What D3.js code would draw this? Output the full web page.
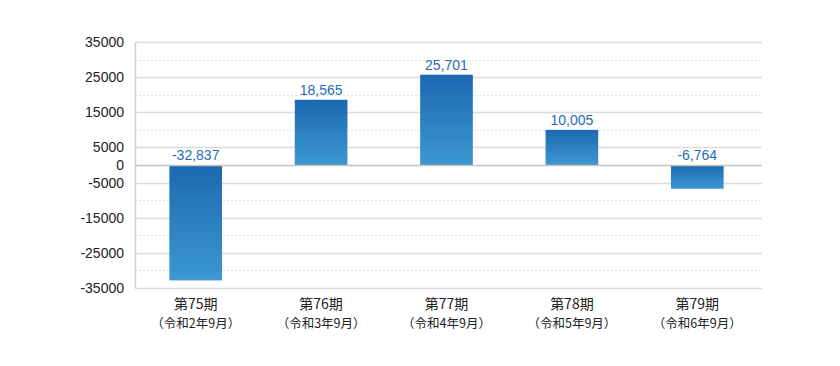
<!DOCTYPE html>
<html><head><meta charset="utf-8">
<script src="https://cdn.jsdelivr.net/npm/d3@7"></script>
<style>body{margin:0;background:#fff}svg{display:block}</style>
</head><body>
<svg id="c" width="840" height="366"></svg>
<script>
const periods = ["第75期","第76期","第77期","第78期","第79期"];
const eras = ["（令和2年9月）","（令和3年9月）","（令和4年9月）","（令和5年9月）","（令和6年9月）"];
const values = [-32837, 18565, 25701, 10005, -6764];
const tickValues = [35000,25000,15000,5000,0,-5000,-15000,-25000,-35000];
const minorTicks = [30000,20000,10000,-10000,-20000,-30000];

const svg = d3.select("#c");
const L = 135, R = 762, T = 42, B = 288;
const y = d3.scaleLinear().domain([-35000, 35000]).range([B, T]);
const x = d3.scaleBand().domain(periods).range([L - 2, R - 2]).paddingInner(0.58).paddingOuter(0.29);

const defs = svg.append("defs");
const g = defs.append("linearGradient").attr("id","bg").attr("x1",0).attr("y1",0).attr("x2",0).attr("y2",1);
g.append("stop").attr("offset","0%").attr("stop-color","#1c69b1");
g.append("stop").attr("offset","100%").attr("stop-color","#3d97d1");

// minor dashed grid
svg.append("g").selectAll("line").data(minorTicks).join("line")
  .attr("x1", L).attr("x2", R).attr("y1", d => Math.round(y(d))+0.5).attr("y2", d => Math.round(y(d))+0.5)
  .attr("stroke","#e2e2e2").attr("stroke-dasharray","2,2").attr("stroke-width",1);
// major grid
svg.append("g").selectAll("line").data(tickValues.filter(d=>d!==0)).join("line")
  .attr("x1", L).attr("x2", R).attr("y1", d => Math.round(y(d))+0.5).attr("y2", d => Math.round(y(d))+0.5)
  .attr("stroke","#dcdcdc").attr("stroke-width",1.5);

// left axis line
svg.append("line").attr("x1",L+0.5).attr("x2",L+0.5).attr("y1",T).attr("y2",B)
  .attr("stroke","#d0d0d0").attr("stroke-width",1.5);

// y axis labels
const ya = d3.axisLeft(y).tickValues(tickValues).tickSize(0).tickPadding(11)
  .tickFormat(d => String(d));
const yg = svg.append("g").attr("transform",`translate(${L},0)`).call(ya);
yg.select(".domain").remove();
yg.selectAll("text").attr("font-family","'Liberation Sans', Arial, sans-serif").attr("font-size",14).attr("fill","#222");

// bars
svg.append("g").selectAll("rect").data(values).join("rect")
  .attr("x", (d,i) => x(periods[i]))
  .attr("width", x.bandwidth())
  .attr("y", d => y(Math.max(0,d)))
  .attr("height", d => Math.abs(y(d) - y(0)))
  .attr("fill","url(#bg)");

// zero line
svg.append("line").attr("x1",L).attr("x2",R).attr("y1",Math.round(y(0))+0.5).attr("y2",Math.round(y(0))+0.5)
  .attr("stroke","#c4c4c4").attr("stroke-width",1.5);

// value labels
const fmt = d3.format(",");
svg.append("g").selectAll("text").data(values).join("text")
  .attr("x", (d,i) => x(periods[i]) + x.bandwidth()/2)
  .attr("y", d => y(Math.max(0,d)) - 5)
  .attr("text-anchor","middle")
  .attr("font-family","'Liberation Sans', Arial, sans-serif").attr("font-size",14)
  .attr("fill","#1f6cb5")
  .text(d => fmt(d).replace("−","-"));

// x labels
const xg = svg.append("g");
xg.selectAll("text.p").data(periods).join("text").attr("class","p")
  .attr("x", d => x(d) + x.bandwidth()/2).attr("y", 309)
  .attr("text-anchor","middle").attr("font-family","'Noto Sans CJK JP', sans-serif")
  .attr("font-size",14).attr("fill","#222").text(d => d);
xg.selectAll("text.e").data(eras).join("text").attr("class","e")
  .attr("x", (d,i) => x(periods[i]) + x.bandwidth()/2).attr("y", 328)
  .attr("text-anchor","middle").attr("font-family","'Noto Sans CJK JP', sans-serif")
  .attr("font-size",12.5).attr("fill","#222").text(d => d);
</script>
</body></html>
